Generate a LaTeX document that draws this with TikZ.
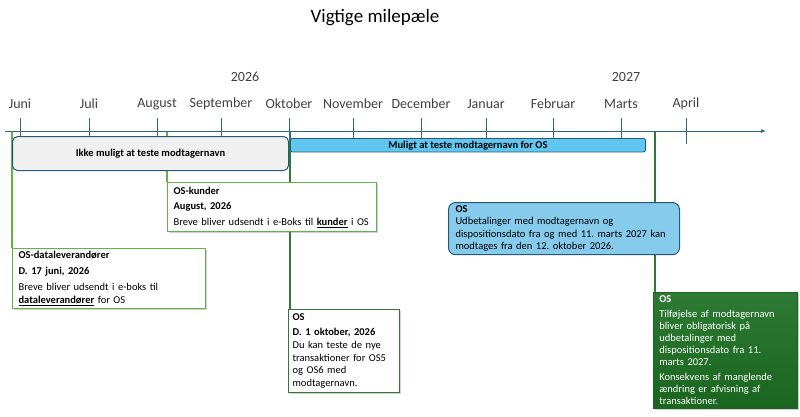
\documentclass[tikz,border=0pt]{standalone}
\usepackage{fontspec}
\setmainfont{Carlito}
\frenchspacing
\usetikzlibrary{arrows.meta, positioning, shadows, backgrounds}
\definecolor{axisblue}{RGB}{47,102,138}
\definecolor{edgeblue}{RGB}{38,88,122}
\definecolor{barblue}{RGB}{96,200,240}
\definecolor{paleblue}{RGB}{134,203,236}
\definecolor{boxgray}{RGB}{240,240,240}
\definecolor{leafgreen}{RGB}{98,178,72}
\definecolor{darkgreen}{RGB}{46,122,52}
\definecolor{deepgreen}{RGB}{26,102,32}
\definecolor{monthgray}{RGB}{64,64,64}
\tikzset{
  titlelbl/.style = {font=\fontsize{19}{22}\selectfont, text=black},
  yearlbl/.style = {font=\fontsize{14}{16}\selectfont, text=monthgray},
  month/.style = {font=\fontsize{14}{16}\selectfont, text=monthgray},
  tick/.style = {draw=axisblue, line width=0.9pt},
  axis/.style = {draw=axisblue, line width=0.9pt, -{Latex[length=5pt, width=4pt]}},
  mile/.style = {draw=leafgreen, line width=1.3pt},
  miledark/.style = {draw=darkgreen, line width=1.3pt},
  softshadow/.style = {drop shadow={shadow xshift=1.5pt, shadow yshift=-1.5pt, opacity=0.3, fill=black!60}},
  phase/.style = {draw=edgeblue, fill=boxgray, line width=1pt, rounded corners=5pt, anchor=north west, font=\fontsize{10.5}{12}\selectfont\bfseries},
  bar/.style = {draw=edgeblue, fill=barblue, line width=0.9pt, rounded corners=2pt, anchor=north west, inner sep=0pt, font=\fontsize{10.5}{12}\selectfont\bfseries},
  card/.style = {draw=leafgreen, line width=1.2pt, fill=white, anchor=north west, align=left, inner xsep=6pt, inner ysep=3pt, font=\fontsize{10.5}{12.5}\selectfont, softshadow},
  note/.style = {draw=edgeblue, fill=paleblue, line width=1pt, rounded corners=7pt, anchor=north west, align=left, inner xsep=7pt, inner ysep=3pt, font=\fontsize{10.5}{12.5}\selectfont},
  greencard/.style = {draw=deepgreen, line width=0.6pt, top color=darkgreen, bottom color=deepgreen, text=white, anchor=north west, align=left, inner xsep=6pt, inner ysep=3pt, font=\fontsize{10.5}{12}\selectfont, softshadow}
}

\begin{document}
\begin{tikzpicture}[x=1pt, y=-1pt]
  \useasboundingbox (0,0) rectangle (800,416);

  % Title and years
  \node[titlelbl] (title) at (375,18) {Vigtige milepæle};
  \node[yearlbl] (y2026) at (245,77) {2026};
  \node[yearlbl] (y2027) at (626,77) {2027};

  % Time axis with the months
  \coordinate (axisL) at (5,131);
  \coordinate (axisR) at (766,131);
  \foreach \x/\m [count=\i] in {20/Juni, 89/Juli, 157/August, 221/September, 289/Oktober, 353/November, 421/December, 486/Januar, 553/Februar, 621/Marts} {
    \node[month] (m\i) at (\x,104) {\m};
    \draw[tick] (\x,118) -- (\x,138);
  }
  \node[month] (m11) at (686,104) {April};
  \draw[tick] (686,118) -- (686,144);
  \draw[axis] (axisL) -- (axisR);

  % Milestone markers on the axis
  \coordinate (ms1) at (12,131);
  \coordinate (ms2) at (167,131);
  \coordinate (ms3) at (290,131);
  \coordinate (ms4) at (655,131);

  % Phase bars
  \node[phase, minimum width=276pt, minimum height=34pt] (ikke) at (12,136) {Ikke muligt at teste modtagernavn};
  \node[bar, minimum width=355pt, minimum height=13.5pt] (muligt) at (290,138) {Muligt at teste modtagernavn for OS};

  % Milestone cards
  \node[card, text width=197pt, minimum height=49pt] (kunder) at (167,182)
    {\textbf{OS-kunder}\\[3pt] \textbf{August, 2026}\\[3pt] Breve bliver udsendt i e-Boks til \underline{\textbf{kunder}} i OS};
  \node[card, text width=181pt, minimum height=60pt] (data) at (12,248)
    {\textbf{OS-dataleverandører}\\[3pt] \textbf{D. 17 juni, 2026}\\[4pt] Breve bliver udsendt i e-boks til\\ \underline{\textbf{dataleverandører}} for OS};
  \node[card, draw=darkgreen, inner xsep=4pt, text width=103pt, minimum height=83pt] (okt) at (288,309)
    {\textbf{OS}\\[2pt] \textbf{D. 1 oktober, 2026}\\[1pt] Du kan teste de nye\\ transaktioner for OS5\\ og OS6 med\\ modtagernavn.};
  \node[note, text width=217pt, minimum height=51pt] (udbet) at (448,202)
    {\textbf{OS}\\ Udbetalinger med modtagernavn og\\ dispositionsdato fra og med 11. marts 2027 kan\\ modtages fra den 12. oktober 2026.};
  \node[greencard, text width=132pt, minimum height=116pt] (oblig) at (653,292)
    {\textbf{OS}\\[3pt] Tilføjelse af modtagernavn\\ bliver obligatorisk på\\ udbetalinger med\\ dispositionsdato fra 11.\\ marts 2027.\\[3pt] Konsekvens af manglende\\ ændring er afvisning af\\ transaktioner.};

  % Lines from the axis down to the cards
  \begin{scope}[on background layer]
    \draw[mile] (ms1) -- (ms1 |- data.north);
    \draw[mile] (ms2) -- (ms2 |- kunder.north);
    \draw[miledark] (ms3) -- (ms3 |- okt.north);
    \draw[miledark] (ms4) -- (ms4 |- oblig.north);
  \end{scope}
\end{tikzpicture}
\end{document}
